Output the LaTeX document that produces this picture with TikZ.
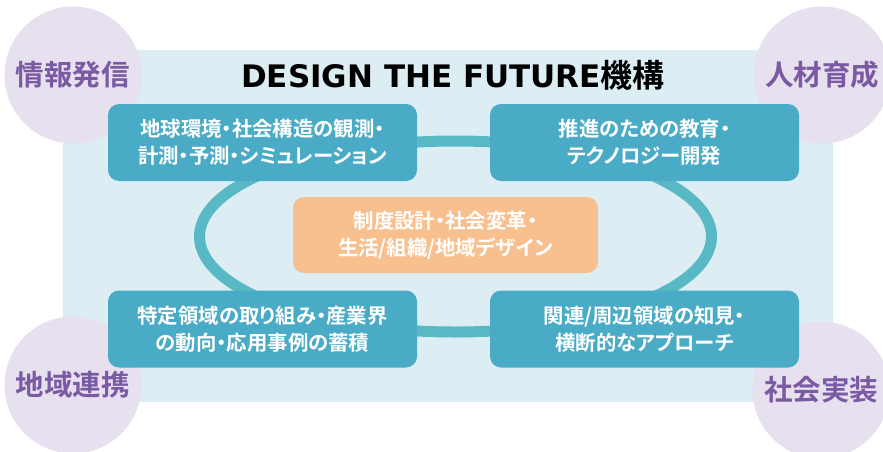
\documentclass[tikz,border=0pt]{standalone}
\usepackage{fontspec}
\setmainfont{Noto Sans CJK JP}[BoldFont={* Bold}, RawFeature=+palt]
\newfontfamily\titlefont{DejaVu Sans}
\usepackage{tikz}
\usetikzlibrary{positioning}
\definecolor{bgblue}{HTML}{DCEEF4}
\definecolor{boxblue}{HTML}{4AABC6}
\definecolor{ringteal}{HTML}{58B9C5}
\definecolor{boxorange}{HTML}{F9C08F}
\definecolor{circlelilac}{HTML}{E7E0EE}
\definecolor{textpurple}{HTML}{7B5AA4}
\tikzstyle{circlebg}=[circle, fill=circlelilac, minimum size=137pt, inner sep=0pt]
\tikzstyle{circlelabel}=[text=textpurple, font=\bfseries\fontsize{28.5}{30}\selectfont]
\tikzstyle{bluebox}=[fill=boxblue, rounded corners=11pt, minimum width=309pt, minimum height=77pt, text=white, align=center, font=\bfseries\fontsize{20.4}{27}\selectfont]
\tikzstyle{orangebox}=[bluebox, fill=boxorange, minimum width=305pt, minimum height=76pt]

\begin{document}
\begin{tikzpicture}[x=1pt, y=-1pt]
		   \useasboundingbox (0,0) rectangle (883,452);
		   \begin{scope}
			   \fill[bgblue] (63,50) rectangle (833,402);
			   \node (c1) at (73,75)[circlebg] {};
			   \node (c2) at (822,75)[circlebg] {};
			   \node (c3) at (73,385)[circlebg] {};
			   \node (c4) at (821,390)[circlebg] {};
			   \draw[ringteal, line width=11pt] (455.5,236.5) ellipse [x radius=256pt, y radius=95.5pt];
		   \end{scope}
		   \begin{scope}
			   \node (title) at (453,75) {{\titlefont\bfseries\fontsize{31}{33}\selectfont DESIGN THE FUTURE}{\bfseries\fontsize{32}{33}\selectfont 機構}};
			   \node (obs) at (262.5,142.5)[bluebox] {地球環境・社会構造の観測・\\計測・予測・シミュレーション};
			   \node (edu) at (644.5,142.5)[bluebox] {推進のための教育・\\テクノロジー開発};
			   \node (ind) at (262.5,329)[bluebox] {特定領域の取り組み・産業界\\の動向・応用事例の蓄積};
			   \node (rel) at (644.5,329)[bluebox] {関連/周辺領域の知見・\\横断的なアプローチ};
			   \node (des) at (445.5,235)[orangebox] {制度設計・社会変革・\\生活/組織/地域デザイン};
		   \end{scope}
		   \begin{scope}
			   \node (info) at (c1)[circlelabel] {情報発信};
			   \node (hr) at (c2)[circlelabel] {人材育成};
			   \node (reg) at (c3)[circlelabel] {地域連携};
			   \node (soc) at (c4)[circlelabel] {社会実装};
		   \end{scope}
	   \end{tikzpicture}
\end{document}
